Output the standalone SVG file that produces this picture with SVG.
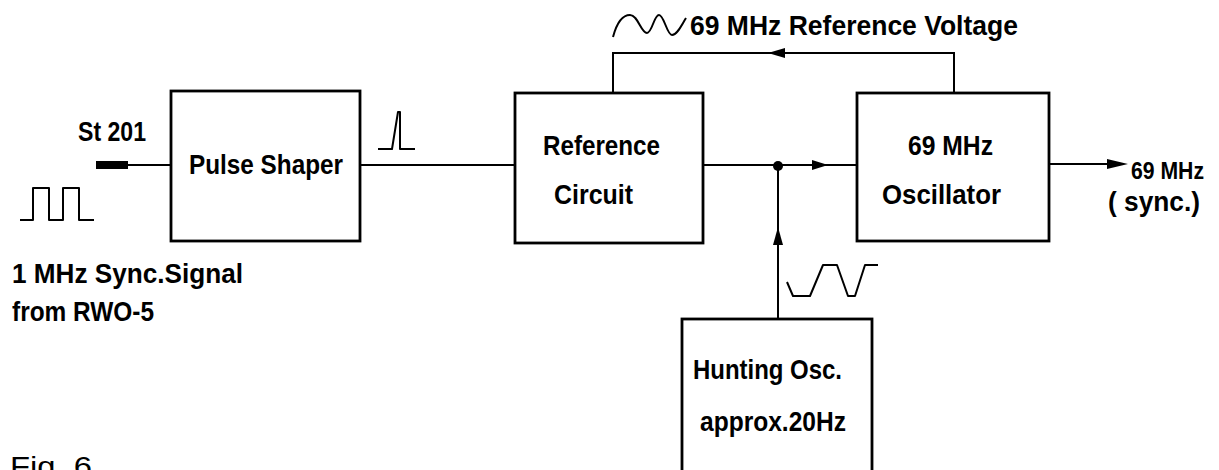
<svg xmlns="http://www.w3.org/2000/svg" width="1219" height="470" viewBox="0 0 1219 470">
<style>
.box{fill:#fff;stroke:#000;stroke-width:2.8}
.ln{fill:none;stroke:#000;stroke-width:2}
.wave{fill:none;stroke:#000;stroke-width:2;stroke-linejoin:round}
.t{font-family:"Liberation Sans","DejaVu Sans",sans-serif;font-weight:bold;font-size:28px;fill:#000}
.tl{font-family:"Liberation Sans","DejaVu Sans",sans-serif;font-weight:normal;font-size:28px;fill:#000}
.ah{fill:#000}
</style>
<rect width="1219" height="470" fill="#fff"/>
<g id="connectors">
  <rect x="96" y="161" width="32" height="8" class="ah"/>
  <line x1="128" y1="165" x2="171" y2="165" class="ln"/>
  <line x1="360" y1="165" x2="515" y2="165" class="ln"/>
  <line x1="703" y1="165" x2="857" y2="165" class="ln"/>
  <polygon points="828,165 812,160 812,170" class="ah"/>
  <circle cx="778" cy="166" r="5" class="ah"/>
  <line x1="778" y1="319" x2="778" y2="166" class="ln"/>
  <polygon points="778,227 773,245 783,245" class="ah"/>
  <polyline points="954,93 954,53 613,53 613,93" class="ln"/>
  <polygon points="768,53 785,48 785,58" class="ah"/>
  <line x1="1049" y1="164" x2="1110" y2="164" class="ln"/>
  <polygon points="1128,164 1107,159 1107,169" class="ah"/>
</g>
<g id="signals">
  <polyline points="20,220 33,220 33,188 49,188 49,220 63,220 63,188 79,188 79,220 94,220" class="wave"/>
  <polyline points="378,149 392,149 398,112 400,112 400,149 415,149" class="wave"/>
  <path d="M613,37 C617,22 623,15 630,15 C638,15 641,33 647,33 C652,33 654,15 659,15 C664,15 667,35 672,35 C677,35 681,26 686,18" class="wave"/>
  <polyline points="787,282 793,296 810,296 823,265 837,265 848,296 855,296 865,265 878,265" class="wave"/>
</g>
<g id="pulse-shaper">
  <rect x="171" y="91" width="189" height="150" class="box"/>
  <text x="189" y="174" class="t" textLength="154" lengthAdjust="spacingAndGlyphs">Pulse Shaper</text>
</g>
<g id="reference-circuit">
  <rect x="515" y="93" width="188" height="150" class="box"/>
  <text x="543" y="155" class="t" textLength="117" lengthAdjust="spacingAndGlyphs">Reference</text>
  <text x="554" y="204" class="t" textLength="79" lengthAdjust="spacingAndGlyphs">Circuit</text>
</g>
<g id="oscillator">
  <rect x="857" y="93" width="192" height="148" class="box"/>
  <text x="908" y="155" class="t" textLength="85" lengthAdjust="spacingAndGlyphs">69  MHz</text>
  <text x="882" y="204" class="t" textLength="119" lengthAdjust="spacingAndGlyphs">Oscillator</text>
</g>
<g id="hunting-osc">
  <rect x="682" y="319" width="190" height="170" class="box"/>
  <text x="693" y="379" class="t" textLength="149" lengthAdjust="spacingAndGlyphs">Hunting Osc.</text>
  <text x="700" y="431" class="t" textLength="146" lengthAdjust="spacingAndGlyphs">approx.20Hz</text>
</g>
<g id="labels">
  <text x="78" y="141" class="t" textLength="68" lengthAdjust="spacingAndGlyphs">St 201</text>
  <text x="12" y="283" class="t" textLength="231" lengthAdjust="spacingAndGlyphs">1 MHz  Sync.Signal</text>
  <text x="12" y="321" class="t" textLength="142" lengthAdjust="spacingAndGlyphs">from RWO-5</text>
  <text x="690" y="35" class="t" textLength="328" lengthAdjust="spacingAndGlyphs">69  MHz  Reference  Voltage</text>
  <text x="1131" y="179" class="t" style="font-size:24px" textLength="73" lengthAdjust="spacingAndGlyphs">69 MHz</text>
  <text x="1108" y="211" class="t" textLength="92" lengthAdjust="spacingAndGlyphs">( sync.)</text>
  <text x="10" y="476" class="tl" textLength="82" lengthAdjust="spacingAndGlyphs">Fig. 6</text>
</g>
</svg>
